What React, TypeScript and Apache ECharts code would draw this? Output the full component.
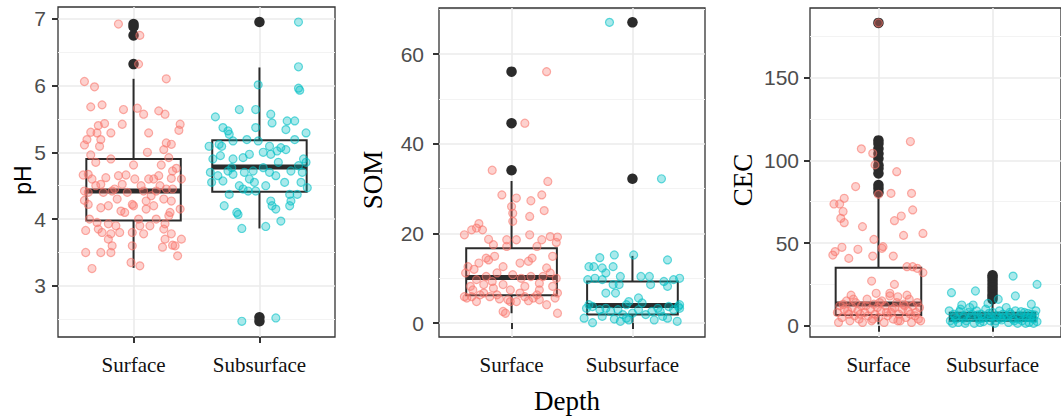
import React, { useEffect, useRef } from 'react';
import * as echarts from 'echarts';

// ---------- data ----------
const categories = ['Surface', 'Subsurface'];
const yTitles = ['pH', 'SOM', 'CEC'];
const xTitle = 'Depth';

const phMajorTicks = [3, 4, 5, 6, 7];
const phMinorTicks = [2.5, 3.5, 4.5, 5.5, 6.5];
const somMajorTicks = [0, 20, 40, 60];
const somMinorTicks = [10, 30, 50, 70];
const cecMajorTicks = [0, 50, 100, 150];
const cecMinorTicks = [25, 75, 125, 175];

// [category, lowerWhisker, Q1, median, Q3, upperWhisker]
const phBoxes = [[1, 3.27, 3.98, 4.42, 4.9, 6.1], [2, 3.86, 4.41, 4.78, 5.18, 6.27]];
const somBoxes = [[1, 2.2, 6.2, 10.2, 16.7, 31.7], [2, 0.1, 1.9, 3.9, 9.3, 15.0]];
const cecBoxes = [[1, 0.8, 6.5, 13.1, 35.0, 78.0], [2, 0.7, 3.0, 5.4, 7.9, 14.5]];

const phOutliers = [[1, 6.92], [1, 6.88], [1, 6.75], [1, 6.32], [2, 6.95], [2, 2.53], [2, 2.47]];
const somOutliers = [[1, 34.1], [1, 44.6], [1, 56.1], [2, 32.2], [2, 67.1]];
const cecOutliers = [
  [1, 80.5], [1, 83], [1, 85], [1, 92], [1, 95], [1, 97], [1, 101], [1, 104], [1, 107], [1, 110], [1, 112], [1, 183],
  [2, 16], [2, 17.5], [2, 19], [2, 21], [2, 23], [2, 25], [2, 27], [2, 29], [2, 30.5],
];

// jittered points: [x position, value]
const phSurface = [
  [0.88, 6.92], [1.05, 6.75], [1.04, 6.32], [0.61, 6.06], [0.69, 5.98], [1.26, 6.1], [0.66, 5.68], [0.75, 5.71],
  [1.03, 5.66], [1.08, 5.57], [0.92, 5.64], [1.2, 5.62], [1.25, 5.57], [0.72, 5.4], [0.77, 5.43], [0.66, 5.3],
  [0.63, 5.19], [0.61, 5.11], [0.71, 5.29], [0.82, 5.29], [0.73, 5.09], [0.91, 5.42], [1.12, 5.29], [1.37, 5.42],
  [1.36, 5.33], [1.26, 5.14], [1.3, 5.12], [1.24, 5.04], [1.11, 5.0], [0.74, 5.19], [0.66, 4.96], [0.7, 4.85],
  [0.82, 4.9], [1.0, 4.81], [1.22, 4.81], [1.28, 4.92], [1.34, 4.76], [1.31, 4.72], [0.6, 4.66], [0.64, 4.67],
  [0.67, 4.6], [0.88, 4.65], [0.94, 4.66], [1.01, 4.6], [1.12, 4.6], [1.16, 4.6], [1.3, 4.61], [1.38, 4.6],
  [0.61, 4.42], [0.64, 4.4], [0.61, 4.28], [0.7, 4.5], [0.74, 4.52], [0.83, 4.42], [0.91, 4.52], [0.95, 4.4],
  [0.87, 4.3], [1.0, 4.2], [1.1, 4.27], [1.14, 4.35], [1.18, 4.42], [1.21, 4.5], [1.26, 4.45], [1.31, 4.45],
  [1.3, 4.27], [1.24, 4.3], [1.37, 4.15], [0.64, 4.22], [0.74, 4.17], [0.8, 4.2], [0.9, 4.12], [1.1, 4.15],
  [1.16, 4.2], [0.65, 4.0], [0.71, 3.95], [0.8, 3.93], [0.86, 3.9], [1.04, 4.0], [1.05, 3.9], [1.13, 3.9],
  [1.18, 4.0], [1.25, 3.93], [1.28, 4.05], [1.29, 4.1], [0.62, 3.83], [0.72, 3.85], [0.75, 3.8], [0.82, 3.78],
  [0.89, 3.8], [0.99, 3.8], [1.08, 3.78], [1.24, 3.85], [1.3, 3.78], [1.38, 3.7], [1.31, 3.61], [1.33, 3.6],
  [1.25, 3.7], [1.23, 3.58], [0.8, 3.7], [0.83, 3.6], [0.99, 3.6], [0.62, 3.5], [0.74, 3.5], [0.82, 3.5],
  [1.35, 3.45], [0.67, 3.26], [0.98, 3.35], [1.05, 3.3], [0.76, 4.4], [1.08, 4.42], [0.99, 4.22], [0.85, 4.45],
  [1.2, 4.65], [0.78, 4.62], [1.06, 4.5], [0.93, 4.1],
];
const phSubsurface = [
  [2.31, 6.95], [2.31, 6.28], [2.31, 5.96], [2.32, 5.93], [1.99, 6.01], [1.84, 5.64], [1.97, 5.64], [2.09, 5.57],
  [2.1, 5.44], [2.22, 5.47], [2.28, 5.47], [2.21, 5.34], [1.65, 5.53], [1.71, 5.37], [1.75, 5.32], [1.76, 5.27],
  [1.97, 5.37], [2.37, 5.29], [2.28, 5.19], [1.6, 5.09], [1.7, 5.09], [1.79, 5.17], [1.9, 5.19], [1.99, 5.17],
  [2.08, 5.09], [2.17, 5.07], [2.21, 5.04], [1.63, 4.9], [1.69, 4.95], [1.79, 4.9], [1.87, 4.92], [1.92, 4.97],
  [2.03, 5.0], [2.09, 4.97], [2.14, 5.02], [2.35, 4.9], [2.37, 4.85], [1.61, 4.7], [1.67, 4.65], [1.75, 4.72],
  [1.78, 4.77], [1.79, 4.67], [1.88, 4.7], [1.95, 4.72], [2.03, 4.77], [2.08, 4.7], [2.13, 4.65], [2.25, 4.72],
  [2.31, 4.8], [2.34, 4.7], [1.62, 4.55], [1.71, 4.57], [1.84, 4.5], [1.96, 4.55], [2.05, 4.5], [2.2, 4.55],
  [2.33, 4.55], [2.38, 4.47], [1.87, 4.45], [1.91, 4.42], [1.97, 4.42], [1.76, 4.37], [2.24, 4.37], [2.3, 4.37],
  [2.09, 4.27], [2.1, 4.2], [2.13, 4.15], [2.25, 4.27], [2.24, 4.2], [1.72, 4.2], [1.82, 4.1], [1.83, 4.07],
  [2.17, 3.97], [1.86, 3.86], [2.05, 3.89], [1.86, 2.47], [2.13, 2.52], [1.68, 5.12], [1.92, 4.6], [2.15, 4.85],
];
const somSurface = [
  [1.29, 56.1], [1.11, 44.6], [0.84, 34.1], [1.3, 31.6], [0.92, 28.6], [1.04, 27.9], [1.16, 27.3], [1.25, 28.6],
  [1.0, 26.0], [1.01, 24.5], [1.15, 23.8], [1.27, 25.1], [1.01, 22.7], [0.67, 20.8], [0.71, 21.2], [0.73, 22.2],
  [0.61, 19.7], [0.76, 20.8], [0.81, 18.7], [0.85, 17.5], [0.96, 18.6], [1.04, 18.6], [1.15, 19.7], [1.25, 18.6],
  [1.32, 19.3], [1.38, 19.2], [1.37, 18.0], [0.96, 17.1], [1.21, 17.1], [0.64, 12.6], [0.73, 13.4], [0.79, 14.5],
  [0.81, 14.1], [0.86, 14.9], [0.93, 12.6], [1.07, 13.4], [1.14, 13.8], [1.17, 14.5], [1.29, 12.3], [1.34, 14.9],
  [0.62, 11.2], [0.71, 9.7], [0.79, 10.4], [0.88, 11.2], [1.01, 10.8], [1.08, 10.0], [1.16, 10.4], [1.26, 10.4],
  [1.32, 11.2], [1.37, 10.0], [0.66, 8.2], [0.68, 7.4], [0.77, 8.6], [0.85, 7.8], [0.93, 8.6], [0.99, 7.4],
  [1.11, 8.2], [1.23, 7.4], [1.34, 8.2], [0.61, 5.9], [0.63, 5.6], [0.67, 5.9], [0.71, 4.8], [0.77, 6.7],
  [0.82, 5.9], [0.88, 6.3], [0.97, 5.2], [1.04, 4.8], [1.11, 5.9], [1.18, 5.6], [1.23, 5.2], [1.29, 4.1],
  [1.36, 5.6], [1.38, 6.7], [0.93, 2.6], [0.95, 2.2], [1.38, 2.2], [0.99, 4.8], [0.74, 6.3], [1.07, 6.7],
  [1.21, 6.3], [0.84, 9.3], [1.23, 8.9], [0.9, 5.4], [1.14, 5.0], [0.69, 12.0],
];
const somSubsurface = [
  [1.81, 67.1], [2.24, 32.2], [1.85, 15.2], [2.01, 15.2], [1.73, 14.6], [2.29, 14.1], [1.64, 12.6], [1.68, 12.6],
  [1.75, 12.3], [1.84, 12.6], [1.78, 11.2], [1.9, 10.4], [1.63, 9.7], [1.69, 10.0], [1.75, 9.7], [2.07, 10.4],
  [2.14, 10.4], [2.34, 9.7], [2.39, 10.0], [2.26, 9.3], [1.84, 8.6], [1.89, 8.6], [2.15, 8.6], [2.29, 8.2],
  [1.78, 6.7], [1.86, 6.7], [2.05, 5.6], [1.97, 4.8], [1.62, 3.3], [1.67, 3.7], [1.73, 3.0], [1.78, 3.3],
  [1.82, 2.6], [1.88, 3.0], [1.92, 1.9], [1.95, 1.1], [1.97, 0.7], [1.9, 0.4], [2.0, 2.2], [2.05, 3.0],
  [2.11, 1.9], [2.16, 2.6], [2.21, 3.3], [2.25, 1.5], [2.29, 1.1], [2.34, 3.0], [2.38, 3.7], [2.39, 3.3],
  [2.37, 0.4], [1.6, 1.1], [1.67, 0.1], [1.75, 1.5], [1.85, 0.9], [2.23, 2.6], [2.18, 0.7], [1.64, 4.1],
  [1.95, 4.1], [2.08, 4.5], [2.3, 3.7], [2.39, 4.1],
];
const cecSurface = [
  [1.0, 183], [1.28, 111.3], [0.85, 106.9], [0.95, 104.2], [0.97, 97.2], [1.16, 93.1], [0.8, 84.1], [1.0, 79.4],
  [1.11, 80.0], [1.29, 80.0], [0.7, 77.0], [0.61, 73.6], [0.66, 73.6], [0.69, 69.0], [1.3, 70.0], [0.67, 64.9],
  [0.7, 62.3], [1.2, 66.3], [1.14, 63.5], [0.86, 59.9], [1.39, 55.8], [1.22, 54.6], [0.96, 52.2], [1.03, 46.8],
  [1.04, 47.8], [0.82, 46.2], [0.68, 47.4], [0.62, 44.8], [0.6, 42.7], [0.95, 42.1], [1.13, 42.1], [0.74, 40.7],
  [1.25, 35.7], [1.3, 35.7], [1.34, 34.7], [1.39, 32.1], [0.94, 27.0], [1.14, 25.0], [0.98, 19.6], [1.1, 19.6],
  [0.76, 18.5], [1.17, 17.5], [1.25, 18.5], [0.64, 8], [0.66, 12], [0.68, 5], [0.7, 10], [0.72, 15],
  [0.74, 7], [0.75, 3], [0.77, 11], [0.79, 6], [0.8, 14], [0.82, 9], [0.83, 4], [0.85, 12],
  [0.86, 2], [0.88, 8], [0.9, 16], [0.91, 6], [0.93, 10], [0.94, 3], [0.96, 13], [0.97, 7],
  [0.99, 11], [1.0, 5], [1.02, 9], [1.03, 15], [1.05, 2], [1.06, 12], [1.08, 6], [1.1, 18],
  [1.11, 8], [1.13, 4], [1.14, 11], [1.16, 14], [1.18, 7], [1.19, 3], [1.21, 10], [1.22, 13],
  [1.24, 5], [1.26, 9], [1.27, 16], [1.29, 2], [1.3, 12], [1.32, 6], [1.33, 8], [1.35, 4],
  [1.36, 11], [1.37, 3], [0.65, 2], [0.69, 13], [0.73, 9], [0.78, 16], [0.84, 7], [0.89, 12],
  [0.95, 4], [1.01, 14], [1.07, 8], [1.12, 10], [1.17, 3], [1.23, 12], [1.28, 7], [1.34, 14],
];
const cecSubsurface = [
  [2.18, 30], [2.39, 25], [2.2, 18], [1.64, 20], [1.85, 21], [1.96, 13.5], [1.73, 12.5], [1.83, 12.5],
  [2.34, 13], [2.05, 16], [1.62, 9], [1.66, 7], [1.68, 4], [1.7, 2], [1.72, 10], [1.75, 6],
  [1.77, 3], [1.79, 8], [1.81, 5], [1.84, 1.5], [1.86, 9], [1.88, 4], [1.9, 7], [1.92, 2.5],
  [1.94, 10], [1.96, 5], [1.98, 3], [2.0, 8], [2.02, 1.5], [2.04, 6], [2.06, 9], [2.08, 3.5],
  [2.1, 5], [2.12, 11], [2.14, 2], [2.16, 7], [2.18, 4], [2.2, 9], [2.22, 1.5], [2.24, 6],
  [2.26, 3], [2.28, 8], [2.3, 5], [2.32, 2], [2.34, 7], [2.36, 4], [2.38, 9], [2.39, 2.5],
  [1.63, 3], [1.67, 5.5], [1.71, 8.5], [1.76, 1.5], [1.8, 11], [1.87, 6.5], [1.91, 4.5], [1.97, 7.5],
  [2.03, 3], [2.09, 7], [2.13, 5.5], [2.19, 3], [2.25, 8.5], [2.29, 1.5], [2.33, 5], [2.37, 6.5],
  [1.65, 1.5], [1.74, 4.5], [1.82, 7], [1.89, 2], [1.99, 5.5], [2.07, 4.5], [2.15, 8], [2.23, 4],
  [2.31, 7.5], [2.36, 1.5],
];

// ---------- styling / layout ----------
const SURFACE = '248,118,109';
const SUBSURFACE = '0,191,196';
const SANS = '"Liberation Sans", Arial, sans-serif';
const SERIF = '"Liberation Serif", "Times New Roman", serif';

const panels = [
  { grid: { left: 58, top: 7, width: 277, height: 330 }, yMin: 2.235, yMax: 7.175, major: phMajorTicks, minor: phMinorTicks,
    boxes: phBoxes, outliers: phOutliers, s1: phSurface, s2: phSubsurface, labelMargin: 12 },
  { grid: { left: 439, top: 8, width: 266, height: 329 }, yMin: -3.1, yMax: 70.3, major: somMajorTicks, minor: somMinorTicks,
    boxes: somBoxes, outliers: somOutliers, s1: somSurface, s2: somSubsurface, labelMargin: 15 },
  { grid: { left: 810, top: 8, width: 260, height: 329 }, yMin: -6.8, yMax: 192, major: cecMajorTicks, minor: cecMinorTicks,
    boxes: cecBoxes, outliers: cecOutliers, s1: cecSurface, s2: cecSubsurface, labelMargin: 11 },
];

function renderBox(params: any, api: any) {
  const x = api.value(0);
  const lo = api.coord([x, api.value(1)]);
  const q1 = api.coord([x, api.value(2)]);
  const med = api.coord([x, api.value(3)]);
  const q3 = api.coord([x, api.value(4)]);
  const hi = api.coord([x, api.value(5)]);
  const w = api.size([0.75, 0])[0];
  const cx = q1[0];
  const line = { stroke: '#2b2b2b', lineWidth: 2 };
  return {
    type: 'group',
    children: [
      { type: 'line', shape: { x1: cx, y1: hi[1], x2: cx, y2: q3[1] }, style: line },
      { type: 'line', shape: { x1: cx, y1: q1[1], x2: cx, y2: lo[1] }, style: line },
      { type: 'rect', shape: { x: cx - w / 2, y: q3[1], width: w, height: q1[1] - q3[1] },
        style: { stroke: '#2b2b2b', lineWidth: 2, fill: '#ffffff' } },
      { type: 'line', shape: { x1: cx - w / 2, y1: med[1], x2: cx + w / 2, y2: med[1] },
        style: { stroke: '#2b2b2b', lineWidth: 5 } },
    ],
  };
}

export default function App() {
  const ref = useRef<HTMLDivElement>(null);

  useEffect(() => {
    if (!ref.current) return;
    const chart = echarts.init(ref.current, undefined, { renderer: 'svg' });

    const grid: any[] = [];
    const xAxis: any[] = [];
    const yAxis: any[] = [];
    const series: any[] = [];

    panels.forEach((p, i) => {
      grid.push({ ...p.grid, show: true, backgroundColor: '#ffffff', borderColor: '#333333', borderWidth: 1.3 });
      xAxis.push({
        type: 'value', gridIndex: i, min: 0.4, max: 2.6,
        axisLine: { show: false },
        axisTick: { show: true, customValues: [1, 2], length: 6, lineStyle: { color: '#333', width: 2 } },
        axisLabel: {
          show: true, customValues: [1, 2], margin: 17,
          formatter: (v: number) => categories[Math.round(v) - 1],
          color: '#111', fontFamily: SERIF, fontSize: 21,
        },
        splitLine: { show: true, lineStyle: { color: '#EBEBEB', width: 1.6 } },
      });
      yAxis.push({
        type: 'value', gridIndex: i, min: p.yMin, max: p.yMax, position: 'left',
        axisLine: { show: false },
        axisTick: { show: true, customValues: p.major, length: 6, lineStyle: { color: '#333', width: 2 } },
        axisLabel: { show: true, customValues: p.major, margin: p.labelMargin, color: '#4D4D4D', fontFamily: SANS, fontSize: 21 },
        splitLine: { show: true, lineStyle: { color: '#EBEBEB', width: 1.6 } },
      });
      yAxis.push({
        type: 'value', gridIndex: i, min: p.yMin, max: p.yMax, position: 'left',
        axisLine: { show: false },
        axisTick: { show: false, customValues: p.minor },
        axisLabel: { show: false },
        splitLine: { show: true, lineStyle: { color: '#F3F3F3', width: 1 } },
      });
      const yi = i * 2;
      series.push({
        type: 'custom', xAxisIndex: i, yAxisIndex: yi, renderItem: renderBox,
        encode: { x: 0, y: [1, 2, 3, 4, 5] }, data: p.boxes, z: 2, clip: false,
      });
      series.push({
        type: 'scatter', xAxisIndex: i, yAxisIndex: yi, data: p.outliers, symbolSize: 10.5, z: 3,
        itemStyle: { color: '#2b2b2b', opacity: 1 },
      });
      series.push({
        type: 'scatter', xAxisIndex: i, yAxisIndex: yi, data: p.s1, symbolSize: 8, z: 4,
        itemStyle: { color: `rgba(${SURFACE},0.42)`, borderColor: `rgba(${SURFACE},0.75)`, borderWidth: 1.2 },
      });
      series.push({
        type: 'scatter', xAxisIndex: i, yAxisIndex: yi, data: p.s2, symbolSize: 8, z: 4,
        itemStyle: { color: `rgba(${SUBSURFACE},0.42)`, borderColor: `rgba(${SUBSURFACE},0.75)`, borderWidth: 1.2 },
      });
    });

    const titleText = (text: string, x: number, y: number, font: string, rotate: boolean) => ({
      type: 'text', x, y, rotation: rotate ? Math.PI / 2 : 0, silent: true,
      style: { text, font, fill: '#000', textAlign: 'center', textVerticalAlign: 'middle', align: 'center', verticalAlign: 'middle' },
    });

    chart.setOption({
      animation: false,
      backgroundColor: '#ffffff',
      grid, xAxis, yAxis, series,
      graphic: [
        titleText(yTitles[0], 23, 180, `23px ${SANS}`, true),
        titleText(yTitles[1], 373, 180, `27px ${SERIF}`, true),
        titleText(yTitles[2], 743, 180, `27px ${SERIF}`, true),
        titleText(xTitle, 567, 401, `27px ${SERIF}`, false),
      ],
    });

    return () => chart.dispose();
  }, []);

  return <div ref={ref} style={{ position: 'absolute', left: 0, top: 0, width: 1061, height: 419 }} />;
}
